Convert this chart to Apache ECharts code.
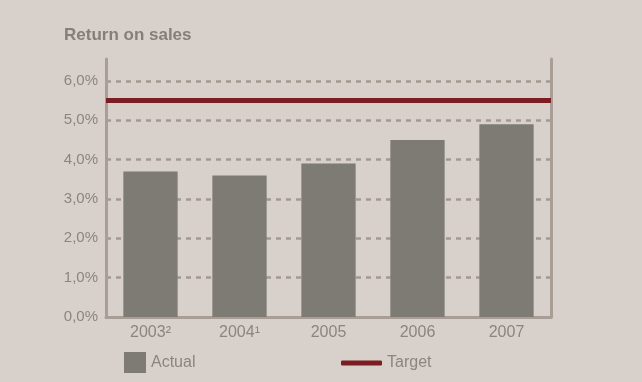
<!DOCTYPE html>
<html>
<head>
<meta charset="utf-8">
<script src="https://cdn.jsdelivr.net/npm/echarts@6/dist/echarts.min.js"></script>
<style>
  html, body { margin: 0; padding: 0; background: #d8d1cb; }
  #chart { width: 642px; height: 382px; }
</style>
</head>
<body>
<div id="chart"></div>
<script>
// data
const years = ['2003²', '2004¹', '2005', '2006', '2007'];
const actual = [3.7, 3.6, 3.9, 4.5, 4.9];
const target = 5.5;

const axisColor = '#a89e95';
const textColor = '#8c857d';

const chart = echarts.init(document.getElementById('chart'));

const fmt = v => v.toFixed(1).replace('.', ',') + '%';

chart.setOption({
  backgroundColor: '#d8d1cb',
  textStyle: { fontFamily: 'Liberation Sans, Arial, sans-serif' },
  title: {
    text: 'Return on sales',
    left: 59,
    top: 22,
    textStyle: { color: '#857f77', fontSize: 17, fontWeight: 'bold' }
  },
  grid: { left: 106, right: 91, top: 59, bottom: 65 },
  legend: [
    {
      data: [{ name: 'Actual', icon: 'rect' }],
      left: 119, top: 347,
      itemWidth: 22, itemHeight: 21,
      textStyle: { color: textColor, fontSize: 16 }
    },
    {
      data: [{ name: 'Target', icon: 'roundRect' }],
      left: 336, top: 350,
      itemWidth: 41, itemHeight: 5,
      textStyle: { color: textColor, fontSize: 16 }
    }
  ],
  xAxis: {
    type: 'category',
    data: years,
    axisLine: { lineStyle: { color: axisColor, width: 3 } },
    axisTick: { show: false },
    axisLabel: { color: textColor, fontSize: 16, margin: 8 }
  },
  yAxis: [
    {
      type: 'value',
      min: 0, max: 6.56, interval: 1,
      axisLine: { show: true, lineStyle: { color: axisColor, width: 3 } },
      axisTick: { show: false },
      axisLabel: { color: textColor, fontSize: 15, margin: 8, formatter: fmt, showMaxLabel: false },
      splitLine: {
        show: true, showMinLine: false, showMaxLine: false,
        lineStyle: { color: '#a39990', width: 2.5, type: [5, 5] }
      }
    },
    {
      type: 'value',
      position: 'right',
      min: 0, max: 6.56, interval: 1,
      axisLine: { show: true, lineStyle: { color: axisColor, width: 3 } },
      axisTick: { show: false },
      axisLabel: { show: false },
      splitLine: { show: false }
    }
  ],
  series: [
    {
      name: 'Actual',
      type: 'bar',
      data: actual,
      barWidth: '61%',
      itemStyle: { color: '#7d7b73' },
      z: 3
    },
    {
      name: 'Target',
      type: 'line',
      data: [],
      itemStyle: { color: '#7b1d22' },
      markLine: {
        silent: true,
        symbol: 'none',
        label: { show: false },
        lineStyle: { color: '#7b1d22', width: 5, type: 'solid' },
        data: [{ yAxis: target }]
      },
      z: 4
    }
  ]
});
</script>
</body>
</html>
